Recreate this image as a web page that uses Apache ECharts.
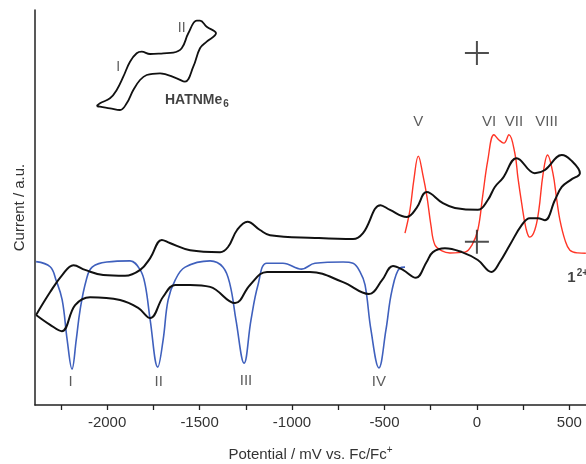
<!DOCTYPE html>
<html>
<head>
<meta charset="utf-8">
<script src="https://cdn.jsdelivr.net/npm/echarts@6/dist/echarts.min.js"></script>
<style>
  html, body { margin: 0; padding: 0; background: #fff; }
  #chart { width: 586px; height: 464px; }
</style>
</head>
<body>
<div id="chart"></div>
<script>
// CV (black loop): forward scan then return scan, mV vs a.u.
const cvPotential = [
  -2384, -2308, -2243, -2182, -2119, -2021, -1903, -1821, -1767, -1704, -1661, -1551, -1389, -1346,
  -1297, -1241, -1173, -1119, -876, -670, -616, -521, -470, -380, -326, -272, -184, -119, 5, 59,
  97, 141, 215, 313, 368, 459, 508, 557,
  508, 459, 422, 368, 329, 286, 243, 178, 124, 79, 5, -81, -173, -238, -272, -330, -400, -454,
  -513, -584, -724, -903, -1135, -1227, -1308, -1443, -1551, -1632, -1697, -1767, -1832, -1930,
  -2092, -2173, -2245, -2308, -2384
];
const cvCurrent = [
  22.8, 28.6, 32.9, 35.4, 34.2, 32.9, 32.7, 34.2, 37.2, 41.8, 41.0, 39.2, 38.7, 40.0,
  44.3, 46.4, 44.3, 43.0, 42.3, 42.0, 43.5, 50.6, 49.4, 47.6, 49.9, 53.9, 51.1, 49.9, 49.4, 51.9,
  55.2, 57.5, 62.5, 58.7, 59.5, 63.3, 62.0, 58.7,
  57.0, 55.2, 51.9, 46.8, 47.3, 47.3, 45.6, 40.5, 36.2, 33.7, 36.7, 38.7, 39.7, 38.7, 36.2, 32.2, 34.2, 35.2,
  31.6, 28.1, 31.1, 33.7, 33.7, 30.4, 25.8, 29.9, 30.4, 30.4, 27.4, 22.0, 24.6, 26.6,
  27.3, 25.3, 18.7, 20.3, 22.8
];

// DPV reduction (blue)
const bluePotential = [
  -2384, -2308, -2276, -2243, -2216, -2190, -2167, -2146, -2113, -2081, -2001, -1876, -1821, -1794,
  -1767, -1726, -1697, -1670, -1632, -1578, -1443, -1373, -1335, -1303, -1259, -1222, -1184, -1137,
  -1049, -948, -876, -724, -670, -632, -605, -573, -530, -492, -459, -416, -389
];
const blueCurrent = [
  36.3, 35.0, 31.6, 26.6, 16.5, 9.1, 16.5, 24.1, 31.6, 34.9, 36.2, 36.5, 34.2, 30.4,
  21.5, 9.6, 16.5, 26.6, 31.6, 34.9, 36.5, 34.9, 30.4, 21.5, 10.6, 21.5, 30.4, 35.9,
  35.9, 34.4, 35.9, 36.2, 35.9, 33.7, 30.4, 19.0, 9.4, 19.0, 29.1, 34.7, 34.9
];

// DPV oxidation (red)
const redPotential = [
  -389, -362, -341, -317, -292, -270, -249, -227, -189, -146, -65, -27, 5, 32, 59, 92, 119, 146,
  173, 205, 222, 242, 265, 286, 313, 335, 357, 382, 411, 432, 449, 476, 503, 546, 589
];
const redCurrent = [
  43.5, 49.4, 57.0, 63.0, 58.2, 52.7, 45.6, 40.5, 39.0, 38.5, 38.7, 40.5, 44.3, 53.2, 62.0, 68.4, 67.1, 66.3,
  68.4, 63.8, 57.5, 51.1, 44.8, 42.5, 44.3, 49.4, 58.2, 63.3, 58.7, 51.9, 46.8, 41.8, 39.2, 38.5, 38.4
];

// peak labels
const peakNames = ['I', 'II', 'III', 'IV', 'V', 'VI', 'VII', 'VIII'];
const peakX = [-2197, -1721, -1249, -530, -317, 66, 200, 377];
const peakY = [5.9, 5.9, 6.2, 5.9, 71.7, 71.7, 71.7, 71.7];

// ferrocene reference crosses
const crossX = [0, 0];
const crossY = [89.1, 41.3];

// axis ticks
const tickValues = [-2250, -2000, -1750, -1500, -1250, -1000, -750, -500, -250, 0, 250, 500];
const labelValues = [-2000, -1500, -1000, -500, 0, 500];

// inset sketch of HATNMe6 CV
const insetX = [6.7, 10, 20, 26.7, 33.3, 40, 46.7, 51.7, 60, 73.3, 83.3, 91.7, 98.3, 106.7, 110, 116.7, 126,
  116.7, 110, 103.3, 95, 86.7, 70, 56.7, 50, 43.3, 36.7, 30, 20, 10, 6.7];
const insetY = [9, 11.7, 16.7, 25, 38.3, 53.3, 61.7, 63.3, 61, 61.7, 62.3, 66.7, 81.7, 94.3, 94.3, 88.3, 81.7,
  73.3, 66.7, 48.3, 33.3, 36.7, 41.7, 40, 35, 25, 11.7, 5, 6.7, 8.3, 9];

const zip = (xs, ys) => xs.map((x, i) => [x, ys[i]]);

const chart = echarts.init(document.getElementById('chart'));
const font = 'Liberation Sans, Arial, sans-serif';

chart.setOption({
  animation: false,
  textStyle: { fontFamily: font },
  grid: [
    { left: 35, right: 0, top: 10, bottom: 59, outerBoundsMode: 'none' },
    { left: 90, top: 15, width: 135, height: 100, outerBoundsMode: 'none' }
  ],
  xAxis: [{
    type: 'value', min: -2390, max: 590,
    axisLine: { onZero: false, lineStyle: { color: '#222', width: 1.5 } },
    axisTick: { show: true, length: 5, customValues: tickValues, lineStyle: { color: '#222', width: 1.3 } },
    axisLabel: { customValues: labelValues, color: '#333', fontSize: 15, margin: 10, fontFamily: font,
      formatter: v => String(v) },
    splitLine: { show: false },
    name: 'Potential / mV vs. Fc/Fc{sup|+}',
    nameLocation: 'middle', nameGap: 40,
    nameTextStyle: { color: '#333', fontSize: 15, fontFamily: font,
      rich: { sup: { fontSize: 10, color: '#333', padding: [0, 0, 9, 0], fontFamily: font } } }
  }, {
    gridIndex: 1, type: 'value', min: 0, max: 135, show: false
  }],
  yAxis: [{
    type: 'value', min: 0, max: 100,
    axisLine: { show: true, onZero: false, lineStyle: { color: '#222', width: 1.5 } },
    axisTick: { show: false }, axisLabel: { show: false }, splitLine: { show: false },
    name: 'Current / a.u.', nameLocation: 'middle', nameGap: 8,
    nameTextStyle: { color: '#333', fontSize: 15, fontFamily: font }
  }, {
    gridIndex: 1, type: 'value', min: 0, max: 100, show: false
  }],
  series: [
    {
      name: 'DPV red', type: 'line', data: zip(redPotential, redCurrent), smooth: 0.4,
      showSymbol: false, lineStyle: { color: '#ff3526', width: 1.4 }, z: 2
    },
    {
      name: 'DPV blue', type: 'line', data: zip(bluePotential, blueCurrent), smooth: 0.4,
      showSymbol: false, lineStyle: { color: '#3f60bd', width: 1.6 }, z: 2
    },
    {
      name: 'CV', type: 'line', data: zip(cvPotential, cvCurrent), smooth: 0.4,
      showSymbol: false, lineStyle: { color: '#111', width: 2 }, z: 3
    },
    {
      name: 'peaks', type: 'scatter', symbolSize: 0,
      data: peakNames.map((n, i) => ({ name: n, value: [peakX[i], peakY[i]] })),
      label: { show: true, position: 'inside', formatter: '{b}', color: '#333', fontSize: 15, fontFamily: font }
    },
    {
      name: 'Fc', type: 'scatter', data: zip(crossX, crossY), symbolSize: 24,
      symbol: 'path://M11,0h2v11h11v2h-11v11h-2v-11h-11v-2h11z',
      itemStyle: { color: '#222' }, z: 4
    },
    {
      name: 'charge', type: 'scatter', symbolSize: 0,
      data: [{ name: '1', value: [545, 32.2] }],
      label: { show: true, position: 'inside', formatter: '{a|1}{b|2+}',
        rich: {
          a: { fontSize: 15, fontWeight: 'bold', color: '#111', fontFamily: font },
          b: { fontSize: 10, fontWeight: 'bold', color: '#111', padding: [0, 0, 10, 1], fontFamily: font }
        } }
    },
    {
      name: 'inset', type: 'line', xAxisIndex: 1, yAxisIndex: 1, data: zip(insetX, insetY), smooth: 0.4,
      showSymbol: false, lineStyle: { color: '#111', width: 1.8 }
    },
    {
      name: 'inset labels', type: 'scatter', xAxisIndex: 1, yAxisIndex: 1, symbolSize: 0,
      data: [
        { name: 'I', value: [28.3, 48.3] },
        { name: 'II', value: [91.7, 86.7] }
      ],
      label: { show: true, position: 'inside', formatter: '{b}', color: '#333', fontSize: 14, fontFamily: font }
    },
    {
      name: 'inset title', type: 'scatter', xAxisIndex: 1, yAxisIndex: 1, symbolSize: 0,
      data: [{ name: 'HATNMe', value: [75, 15] }],
      label: { show: true, position: 'right', distance: 0, formatter: '{a|HATNMe}{b|6}',
        rich: {
          a: { fontSize: 14, fontWeight: 'bold', color: '#111', fontFamily: font },
          b: { fontSize: 10, fontWeight: 'bold', color: '#111', padding: [8, 0, 0, 1], fontFamily: font }
        } }
    }
  ]
});

window.addEventListener('resize', function() {
  chart.resize();
});
</script>
</body>
</html>
